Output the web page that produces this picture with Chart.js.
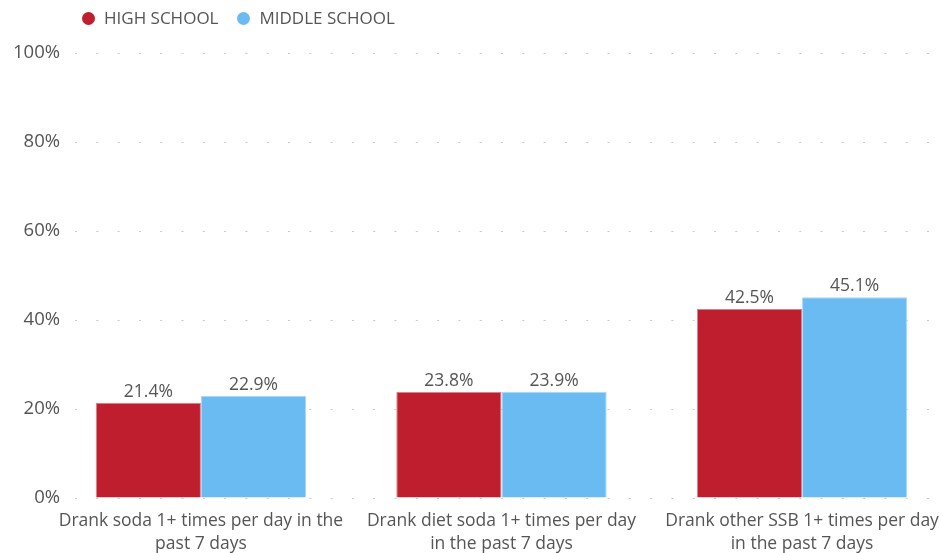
<!DOCTYPE html>
<html lang="en">
<head>
    <meta charset="UTF-8">
    <title>Sugar-sweetened beverages</title>
    <script src="https://cdn.jsdelivr.net/npm/chart.js"></script>
    <style>
        html, body { margin: 0; padding: 0; background: #fff; overflow: hidden; }
        #wrap { position: relative; width: 943px; height: 553px; }
        #legend {
            position: absolute; top: 7px; left: 82px;
            display: flex; gap: 19px;
            font-family: "Open Sans", sans-serif; font-size: 17px; color: #555;
            line-height: 22px;
        }
        .item { display: flex; align-items: center; }
        .dot { width: 13px; height: 13px; border-radius: 50%; margin-right: 9px; }
    </style>
</head>
<body>
    <div id="wrap">
        <div id="legend"></div>
        <canvas id="chart" width="943" height="553"></canvas>
    </div>

    <script>
        const categories = [
            ['Drank soda 1+ times per day in the', 'past 7 days'],
            ['Drank diet soda 1+ times per day', 'in the past 7 days'],
            ['Drank other SSB 1+ times per day', 'in the past 7 days']
        ];
        const seriesNames = ['HIGH SCHOOL', 'MIDDLE SCHOOL'];
        const highSchool = [21.4, 23.8, 42.5];
        const middleSchool = [22.9, 23.9, 45.1];
        const yTicks = [0, 20, 40, 60, 80, 100];

        const colors = ['#BE1E2D', '#6BBBF3'];
        const borders = ['#D9808A', '#A9D7F8'];
        const font = '"Open Sans", sans-serif';

        // categories sit on a numeric axis so the groups can be spaced freely
        const points = arr => arr.map((v, i) => ({ x: i, y: v }));

        // value labels above each bar
        const barLabels = {
            id: 'barLabels',
            afterDatasetsDraw(chart) {
                const ctx = chart.ctx;
                ctx.save();
                ctx.font = '17.5px ' + font;
                ctx.fillStyle = '#555';
                ctx.textAlign = 'center';
                ctx.textBaseline = 'alphabetic';
                chart.data.datasets.forEach((ds, i) => {
                    chart.getDatasetMeta(i).data.forEach((bar, j) => {
                        ctx.fillText(ds.data[j].y.toFixed(1) + '%', bar.x, bar.y - 6);
                    });
                });
                ctx.restore();
            }
        };

        const chart = new Chart(document.getElementById('chart'), {
            type: 'bar',
            data: {
                datasets: [
                    { label: seriesNames[0], data: points(highSchool), backgroundColor: colors[0], borderColor: borders[0], borderWidth: 1 },
                    { label: seriesNames[1], data: points(middleSchool), backgroundColor: colors[1], borderColor: borders[1], borderWidth: 1 }
                ]
            },
            options: {
                responsive: false,
                animation: false,
                layout: { padding: { top: 53, right: 0, left: 0, bottom: 0 } },
                categoryPercentage: 0.70,
                barPercentage: 1,
                plugins: {
                    legend: { display: false },
                    tooltip: { enabled: false }
                },
                scales: {
                    x: {
                        type: 'linear',
                        offset: false,
                        min: -0.419,
                        max: 2.469,
                        afterBuildTicks(axis) {
                            axis.ticks = categories.map((c, i) => ({ value: i }));
                        },
                        afterFit(axis) {
                            axis.height = 55;
                            axis.paddingLeft = 0;
                            axis.paddingRight = 0;
                        },
                        grid: { display: false, drawTicks: false },
                        border: { display: false },
                        ticks: {
                            color: '#555',
                            font: { family: font, size: 17.5, lineHeight: 1.32 },
                            padding: 11,
                            maxRotation: 0,
                            autoSkip: false,
                            callback: v => categories[v]
                        }
                    },
                    y: {
                        min: 0,
                        max: 100,
                        afterBuildTicks(axis) {
                            axis.ticks = yTicks.map(v => ({ value: v }));
                        },
                        afterFit(axis) {
                            axis.width = 75;
                        },
                        grid: { color: '#C8C8C8', lineWidth: 1, drawTicks: false },
                        border: { display: false, dash: [2, 19.3] },
                        ticks: {
                            color: '#555',
                            font: { family: font, size: 18.5 },
                            padding: 15,
                            callback: v => v + '%'
                        }
                    }
                }
            },
            plugins: [barLabels]
        });

        // legend built from the datasets
        const legend = document.getElementById('legend');
        chart.data.datasets.forEach(ds => {
            const item = document.createElement('div');
            item.className = 'item';
            item.innerHTML = `<span class="dot" style="background:${ds.backgroundColor}"></span>${ds.label}`;
            legend.appendChild(item);
        });
    </script>
</body>
</html>
